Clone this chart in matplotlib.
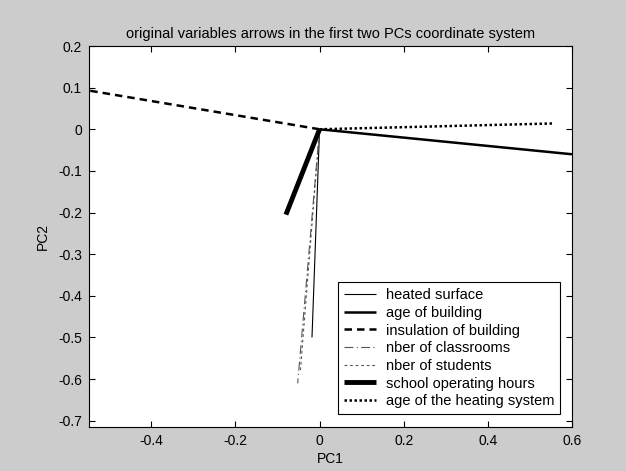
import matplotlib
matplotlib.use("Agg")
import matplotlib.pyplot as plt

variables = ["heated surface", "age of building", "insulation of building",
             "nber of classrooms", "nber of students", "school operating hours",
             "age of the heating system"]
pc1 = [-0.018, 0.600, -0.548, -0.052, -0.046, -0.080, 0.556]
pc2 = [-0.500, -0.060, 0.093, -0.610, -0.585, -0.205, 0.014]

xticks = [-0.4, -0.2, 0, 0.2, 0.4, 0.6]
xticklabels = ["-0.4", "-0.2", "0", "0.2", "0.4", "0.6"]
yticks = [0.2, 0.1, 0, -0.1, -0.2, -0.3, -0.4, -0.5, -0.6, -0.7]
yticklabels = ["0.2", "0.1", "0", "-0.1", "-0.2", "-0.3", "-0.4", "-0.5", "-0.6", "-0.7"]

styles = [
    dict(color="black", lw=0.8, ls="-"),
    dict(color="black", lw=1.8, ls="-"),
    dict(color="black", lw=1.8, ls=(0, (3, 2))),
    dict(color="#555555", lw=0.8, ls=(0, (8, 3, 1, 3))),
    dict(color="#555555", lw=0.8, ls=(0, (2.5, 2.5))),
    dict(color="black", lw=3.5, ls="-"),
    dict(color="black", lw=1.8, ls=(0, (1, 1))),
]

plt.rcParams["font.family"] = ["Liberation Sans", "DejaVu Sans"]
plt.rcParams["font.size"] = 10

W, H = 626, 471
fig = plt.figure(figsize=(W / 100, H / 100), dpi=100, facecolor="#cccccc")
ax = fig.add_axes([89 / W, 1 - 427 / H, (572 - 89) / W, (427 - 46) / H])
ax.set_facecolor("white")

for name, x, y, st in zip(variables, pc1, pc2, styles):
    ax.plot([0, x], [0, y], label=name, solid_capstyle="butt", dash_capstyle="butt", **st)

ax.set_xlim(-0.548, 0.6)
ax.set_ylim(-0.715, 0.2)
ax.set_xticks(xticks)
ax.set_xticklabels(xticklabels)
ax.set_yticks(yticks)
ax.set_yticklabels(yticklabels)
ax.tick_params(direction="in", top=True, right=True, length=4, width=0.8,
               labelsize=10, colors="black", pad=5)
for sp in ax.spines.values():
    sp.set_linewidth(0.8)
    sp.set_color("black")

ax.set_xlabel("PC1", fontsize=10, labelpad=3)
ax.set_ylabel("PC2", fontsize=10, labelpad=6)
ax.set_title("original variables arrows in the first two PCs coordinate system",
             fontsize=10.5, pad=6)

leg = ax.legend(loc="lower right", bbox_to_anchor=(560 / W, 1 - 414 / H),
                bbox_transform=fig.transFigure, fancybox=False, framealpha=1,
                edgecolor="black", fontsize=10.5, handlelength=2.2,
                handletextpad=0.65, labelspacing=0.25, borderpad=0.4,
                borderaxespad=0)
leg.get_frame().set_linewidth(0.8)

fig.savefig("out.png", dpi=100, facecolor=fig.get_facecolor())
